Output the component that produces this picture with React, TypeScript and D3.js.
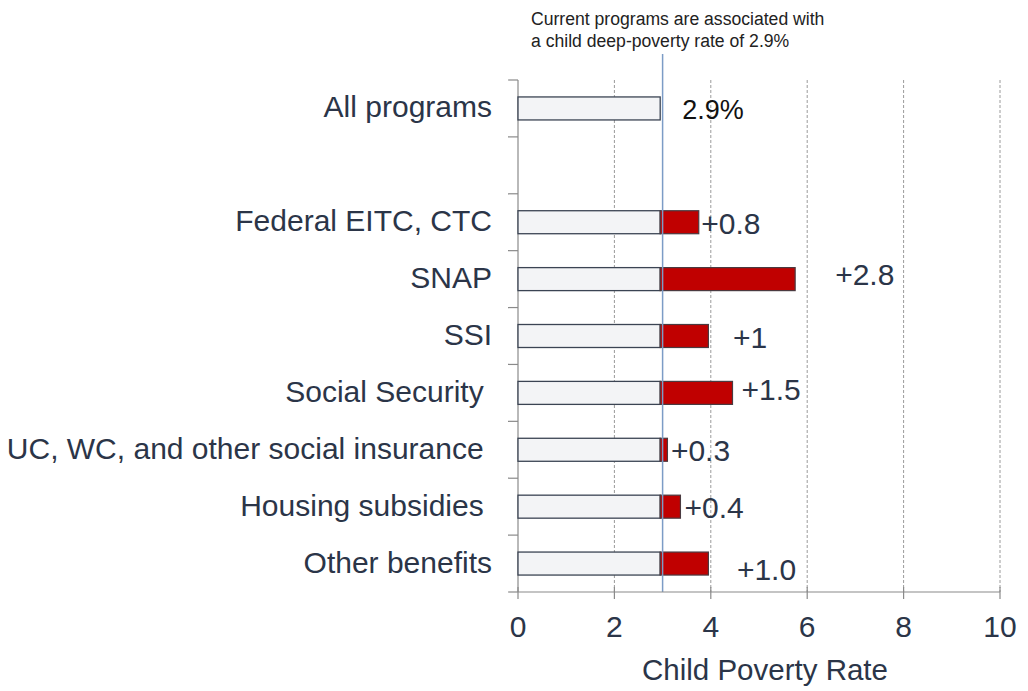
import React from "react";
import * as d3 from "d3";

// ---- data ----
const rowLabels = [
  "All programs",
  "",
  "Federal EITC, CTC",
  "SNAP",
  "SSI",
  "Social Security ",
  "UC, WC, and other social insurance ",
  "Housing subsidies ",
  "Other benefits",
];
const programs = rowLabels.slice(2);
const baseRate = 2.95; // current deep-poverty rate bar (as drawn)
const baseLabel = "2.9%";
const increases = [0.8, 2.8, 1.0, 1.5, 0.15, 0.42, 1.0];
const increaseLabels = ["+0.8", "+2.8", "+1", "+1.5", "+0.3", "+0.4", "+1.0"];
const refLine = 3.0;
const xTicks = [0, 2, 4, 6, 8, 10];
const annotationLines = [
  "Current programs are associated with",
  "a child deep-poverty rate of 2.9%",
];
const axisTitle = "Child Poverty Rate";

// ---- layout (pixel nudges for value labels, not data) ----
const labelDx = [2.5, 40, 24.5, 9, 3.5, 4, 28.5];
const labelDy = [1, -5, 1, -4, 0, 0.5, 5.5];

const W = 1028;
const H = 691;
const FONT = "'Liberation Sans', Arial, Helvetica, sans-serif";
const TEXT = "#2b3548";

export default function App() {
  const x = d3.scaleLinear().domain([0, 10]).range([518, 1000]);
  const y = d3
    .scaleBand<string>()
    .domain(rowLabels.map((_, i) => String(i)))
    .range([80, 592])
    .paddingInner(0)
    .paddingOuter(0);
  const bw = y.bandwidth();
  const barH = 23;
  const cy = (i: number) => (y(String(i)) as number) + bw / 2;

  const barRows = [0, ...programs.map((_, i) => i + 2)];
  const bandEdges = d3.range(rowLabels.length + 1).map((i) => 80 + i * bw);

  return (
    <svg
      width={W}
      height={H}
      style={{ position: "absolute", left: 0, top: 0, background: "#fff" }}
      fontFamily={FONT}
    >
      {/* gridlines */}
      {xTicks.slice(1).map((t) => (
        <line
          key={"g" + t}
          x1={x(t)}
          x2={x(t)}
          y1={80}
          y2={592}
          stroke="#9a9a9a"
          strokeWidth={1}
          strokeDasharray="3,2"
        />
      ))}

      {/* category axis */}
      <line x1={x(0)} x2={x(0)} y1={80} y2={592} stroke="#8a8a8a" strokeWidth={1.2} />
      {bandEdges.map((e, i) => (
        <line key={"ct" + i} x1={508} x2={x(0)} y1={e} y2={e} stroke="#8a8a8a" strokeWidth={1.2} />
      ))}

      {/* base bars */}
      {barRows.map((r) => (
        <rect
          key={"b" + r}
          x={x(0)}
          y={cy(r) - barH / 2}
          width={x(baseRate) - x(0)}
          height={barH}
          fill="#f3f4f6"
          stroke="#3b4453"
          strokeWidth={1.3}
        />
      ))}

      {/* increase bars */}
      {increases.map((v, i) => (
        <rect
          key={"r" + i}
          x={x(baseRate)}
          y={cy(i + 2) - barH / 2}
          width={x(baseRate + v) - x(baseRate)}
          height={barH}
          fill="#c00000"
          stroke="#4a3a40"
          strokeWidth={1.2}
        />
      ))}

      {/* reference line */}
      <line x1={x(refLine)} x2={x(refLine)} y1={54} y2={592} stroke="#7c9cc6" strokeWidth={1.5} />

      {/* x axis */}
      <line x1={x(0)} x2={x(10)} y1={592} y2={592} stroke="#8a8a8a" strokeWidth={1.2} />
      {xTicks.map((t) => (
        <g key={"xt" + t}>
          <line x1={x(t)} x2={x(t)} y1={587} y2={599} stroke="#8a8a8a" strokeWidth={1.2} />
          <text x={x(t)} y={637} textAnchor="middle" fontSize={30} fill={TEXT}>
            {t}
          </text>
        </g>
      ))}
      <text x={(x(0) + x(10)) / 2 + 6} y={680} textAnchor="middle" fontSize={29.5} fill={TEXT}>
        {axisTitle}
      </text>

      {/* category labels */}
      {rowLabels.map((l, i) => (
        <text
          key={"cl" + i}
          x={492}
          y={cy(i) + 9}
          textAnchor="end"
          fontSize={30}
          fill={TEXT}
          style={{ whiteSpace: "pre" }}
        >
          {l}
        </text>
      ))}

      {/* value labels */}
      <text x={x(baseRate) + 22} y={cy(0) + 0.5 + 9.7} fontSize={27} fill="#111">
        {baseLabel}
      </text>
      {increases.map((v, i) => (
        <text
          key={"vl" + i}
          x={x(baseRate + v) + labelDx[i]}
          y={cy(i + 2) + labelDy[i] + 10.75}
          fontSize={30}
          fill={TEXT}
        >
          {increaseLabels[i]}
        </text>
      ))}

      {/* annotation */}
      {annotationLines.map((l, i) => (
        <text key={"an" + i} x={531} y={24.5 + i * 22} fontSize={17.6} fill="#222">
          {l}
        </text>
      ))}
    </svg>
  );
}
